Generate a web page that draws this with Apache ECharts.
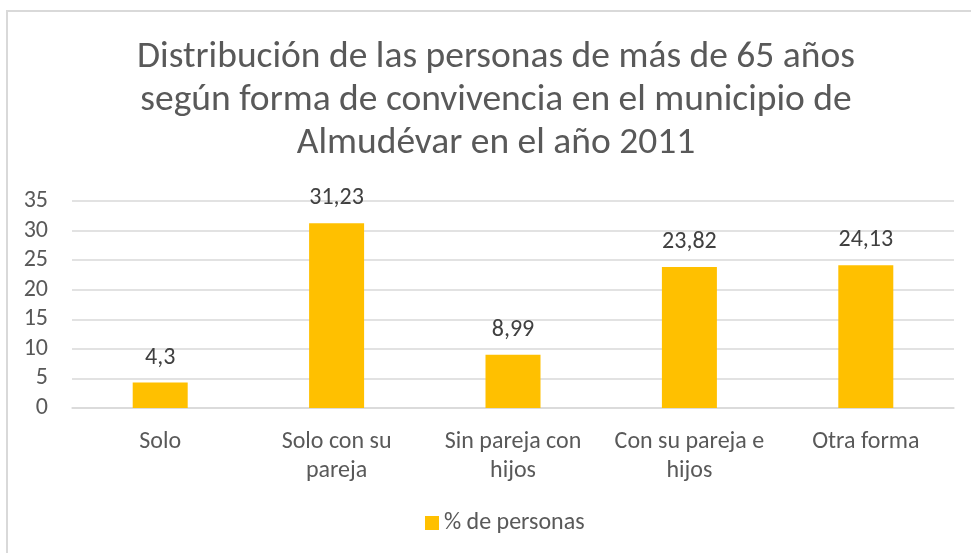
<!DOCTYPE html>
<html>
<head>
<meta charset="utf-8">
<script src="https://cdn.jsdelivr.net/npm/echarts@6/dist/echarts.min.js"></script>
<style>
  html, body { margin: 0; padding: 0; background: #fff; }
  #frame { position: absolute; left: 6px; top: 10px; right: 0; bottom: 0;
           border-top: 2px solid #d9d9d9; border-left: 2px solid #d9d9d9; }
  #chart { position: absolute; left: 0; top: 0; width: 971px; height: 553px; }
</style>
</head>
<body>
<div id="frame"></div>
<div id="chart"></div>
<script>
// datos
const categorias = ['Solo', 'Solo con su\npareja', 'Sin pareja con\nhijos', 'Con su pareja e\nhijos', 'Otra forma'];
const porcentajes = [4.3, 31.23, 8.99, 23.82, 24.13];
const nombreSerie = '% de personas';
const titulo = 'Distribución de las personas de más de 65 años\nsegún forma de convivencia en el municipio de\nAlmudévar en el año 2011';

const fuente = 'Carlito, Calibri, Lato, sans-serif';
const chart = echarts.init(document.getElementById('chart'));

var option = {
    animation: false,
    title: {
        text: titulo,
        left: 491,
        top: 31,
        textAlign: 'center',
        textStyle: {
            fontFamily: fuente,
            fontSize: 37.5,
            fontWeight: 'normal',
            color: '#595959',
            lineHeight: 43
        }
    },
    legend: {
        data: [nombreSerie],
        bottom: 13,
        left: 420,
        itemWidth: 14,
        itemHeight: 14,
        itemGap: 6,
        icon: 'rect',
        textStyle: { fontFamily: fuente, fontSize: 24, color: '#595959' }
    },
    grid: {
        left: 72,
        right: 17,
        top: 201,
        bottom: 145,
        containLabel: false
    },
    xAxis: {
        type: 'category',
        data: categorias,
        axisTick: { show: false },
        axisLine: { show: true, lineStyle: { color: '#d9d9d9', width: 1.5 } },
        axisLabel: {
            interval: 0,
            margin: 19,
            lineHeight: 29,
            fontFamily: fuente,
            fontSize: 24,
            color: '#595959'
        }
    },
    yAxis: {
        type: 'value',
        min: 0,
        max: 35,
        interval: 5,
        axisLine: { show: false },
        axisTick: { show: false },
        splitLine: { lineStyle: { color: '#d9d9d9', width: 1.5 } },
        axisLabel: {
            margin: 24,
            fontFamily: fuente,
            fontSize: 24,
            color: '#595959'
        }
    },
    series: [{
        name: nombreSerie,
        type: 'bar',
        data: porcentajes,
        barWidth: 55,
        itemStyle: { color: '#ffc000' },
        label: {
            show: true,
            position: 'top',
            distance: 13,
            fontFamily: fuente,
            fontSize: 24,
            color: '#404040',
            formatter: function (p) { return String(p.value).replace('.', ','); }
        }
    }]
};
chart.setOption(option);
</script>
</body>
</html>
